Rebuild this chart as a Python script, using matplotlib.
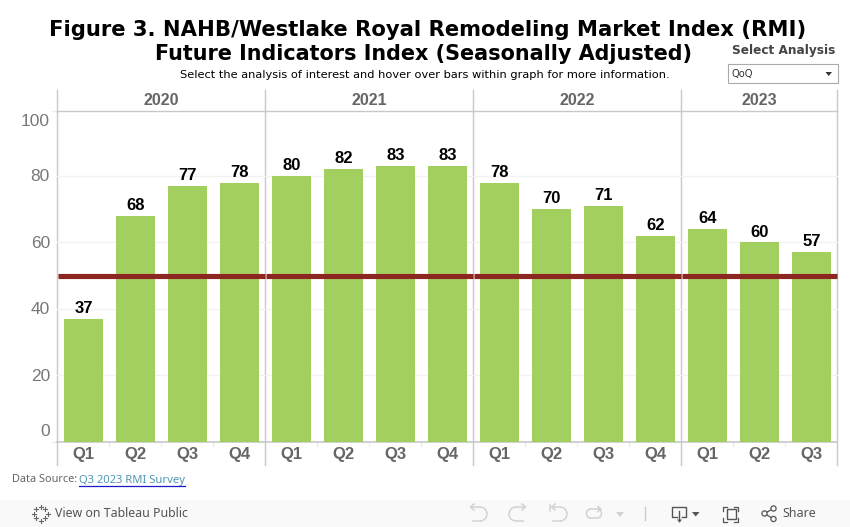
import matplotlib
matplotlib.use('Agg')
import matplotlib.pyplot as plt
from matplotlib.patches import Rectangle, Circle, Arc

# DATA
years = ['2020', '2021', '2022', '2023']
quarters = ['Q1', 'Q2', 'Q3', 'Q4', 'Q1', 'Q2', 'Q3', 'Q4', 'Q1', 'Q2', 'Q3', 'Q4', 'Q1', 'Q2', 'Q3']
rmi = [37, 68, 77, 78, 80, 82, 83, 83, 78, 70, 71, 62, 64, 60, 57]
yticks = [0, 20, 40, 60, 80, 100]
breakeven = 50
pane_edges = [0, 4, 8, 12, 15]

W, H = 850, 527
GREY = '#666666'
LINE = '#c8c8c8'
ARIAL = 'Liberation Sans'

fig = plt.figure(figsize=(W/100, H/100), dpi=100, facecolor='white')

# overlay in pixel coordinates for the dashboard furniture
bg = fig.add_axes([0, 0, 1, 1])
bg.set_xlim(0, W); bg.set_ylim(H, 0); bg.axis('off')

# MAIN PLOT
L, R, T, B = 57.5, 837.5, 109.5, 441.5
ax = fig.add_axes([L/W, 1-B/H, (R-L)/W, (B-T)/H])
ax.set_xlim(0, 15); ax.set_ylim(0, 100)
ax.patch.set_alpha(0)
for s in ax.spines.values():
    s.set_visible(False)
ax.set_axisbelow(True)
ax.set_yticks([20, 40, 60, 80])
ax.set_yticklabels([])
ax.tick_params(length=0)
ax.set_xticks([])
ax.grid(axis='y', color='#f2f2f2', lw=1)

xpos = [i + 0.5 for i in range(len(rmi))]
ax.bar(xpos, rmi, width=0.75, color='#a3cf5e', zorder=2)
for x, v in zip(xpos, rmi):
    ax.annotate(str(v), (x, v), xytext=(0, 2), textcoords='offset points', ha='center', va='bottom',
                fontsize=12, fontweight='bold', family=ARIAL, color='black', zorder=4)

# reference line is drawn per pane, so it breaks at the year dividers
for a, b in zip(pane_edges[:-1], pane_edges[1:]):
    ax.plot([a + 0.01, b - 0.01], [breakeven, breakeven], color='#8b2620', lw=3.7, solid_capstyle='butt', zorder=3)

# y tick labels, the ends are pulled inside the pane like tableau does
for v in yticks:
    y = B - v*(B-T)/100 + 1
    if v == 0:
        y -= 11
    if v == 100:
        y += 11
    bg.text(50, y, str(v), ha='right', va='center', fontsize=12.5, family=ARIAL, color='#777777')

# pane frame
header_top, footer_bottom = 90, 465
TOPLINE = 110.5
for yl in [TOPLINE, B]:
    bg.plot([52, L], [yl, yl], color='#ededed', lw=1, zorder=1)
bg.plot([L, R], [TOPLINE, TOPLINE], color=LINE, lw=1, zorder=1)
bg.plot([L, R], [B, B], color=LINE, lw=1.2, zorder=5)
for e, label in zip(pane_edges, years + ['']):
    xe = L + e*52
    bg.plot([xe, xe], [header_top, footer_bottom], color=LINE, lw=1, zorder=1)
    if label:
        next_e = pane_edges[pane_edges.index(e)+1]
        bg.text((xe + L + next_e*52)/2, 100.5, label, ha='center', va='center', fontsize=11.5, fontweight='bold',
                family=ARIAL, color=GREY)
for i, q in enumerate(quarters):
    xq = L + (i+0.5)*52
    bg.text(xq, 454.5, q, ha='center', va='center', fontsize=12, fontweight='bold', family=ARIAL, color=GREY)
    if i > 0 and i not in pane_edges:
        bg.plot([L+i*52]*2, [B, B+4], color='#ececec', lw=1)

# TITLES
bg.text(428, 30, 'Figure 3. NAHB/Westlake Royal Remodeling Market Index (RMI)', ha='center', va='center',
        fontsize=15.25, fontweight='bold', color='black', family='DejaVu Sans')
bg.text(424, 54.5, 'Future Indicators Index (Seasonally Adjusted)', ha='center', va='center',
        fontsize=14.95, fontweight='bold', color='black', family='DejaVu Sans')
bg.text(424.5, 75, 'Select the analysis of interest and hover over bars within graph for more information.',
        ha='center', va='center', fontsize=8.2, color='black', family='DejaVu Sans')

# FILTER
bg.text(784, 50.5, 'Select Analysis', ha='center', va='center', fontsize=8.7, fontweight='bold', color='#444444',
        family='DejaVu Sans')
bg.add_patch(Rectangle((728.5, 63.5), 110, 19, fc='white', ec='#aaaaaa', lw=0.8))
bg.text(732, 73.5, 'QoQ', ha='left', va='center', fontsize=7.2, color='#333333', family='DejaVu Sans')
bg.fill([825.5, 832, 828.7], [72, 72, 76], color='#333333', lw=0)

# DATA SOURCE
bg.text(12, 480, 'Data Source:', ha='left', va='center', fontsize=7.9, color='#666666', family='Noto Sans')
bg.text(79, 480, 'Q3 2023 RMI Survey', ha='left', va='center', fontsize=8.1, color='#4f96b5', family='Noto Sans')
bg.plot([79, 185], [485.5, 485.5], color='#1a1ac8', lw=0.9)

# TOOLBAR
bg.add_patch(Rectangle((0, 500), W, 27, fc='#f9f9f9', ec='none'))
for dx, dy in [(0, -7), (0, 7), (-7, 0), (7, 0), (-4.5, -4.5), (4.5, -4.5), (-4.5, 4.5), (4.5, 4.5)]:
    bg.plot([41+dx-2, 41+dx+2], [513.5+dy]*2, color='#666666', lw=0.8)
    bg.plot([41+dx]*2, [513.5+dy-2, 513.5+dy+2], color='#666666', lw=0.8)
bg.text(55, 513.5, 'View on Tableau Public', ha='left', va='center', fontsize=8.9, color='#555555', family='Noto Sans')

soft = '#d2d2d2'
# undo, redo, revert
bg.plot([471, 480], [507, 507], color=soft, lw=1.1)
bg.plot([480, 473], [521, 521], color=soft, lw=1.1)
bg.add_patch(Arc((480, 514), 14, 14, theta1=-90, theta2=90, color=soft, lw=1.1))
bg.plot([474, 470.5, 474], [504, 507, 510], color=soft, lw=1.1)
bg.plot([525, 516], [507, 507], color=soft, lw=1.1)
bg.plot([516, 523], [521, 521], color=soft, lw=1.1)
bg.add_patch(Arc((516, 514), 14, 14, theta1=90, theta2=270, color=soft, lw=1.1))
bg.plot([522, 525.5, 522], [504, 507, 510], color=soft, lw=1.1)
bg.plot([552, 560], [507, 507], color=soft, lw=1.1)
bg.plot([560, 553], [521, 521], color=soft, lw=1.1)
bg.add_patch(Arc((560, 514), 14, 14, theta1=-90, theta2=90, color=soft, lw=1.1))
bg.plot([555, 552, 555], [504, 507, 510], color=soft, lw=1.1)
bg.plot([550.5, 550.5], [505, 511], color=soft, lw=1.1)
# pause updates
bg.add_patch(Arc((590.5, 513.5), 8, 9, theta1=90, theta2=270, color=soft, lw=1.1))
bg.add_patch(Arc((597.5, 513.5), 8, 9, theta1=-90, theta2=90, color=soft, lw=1.1))
bg.plot([590.5, 599], [509, 509], color=soft, lw=1.1)
bg.plot([590.5, 597.5], [518, 518], color=soft, lw=1.1)
bg.plot([598, 601, 598], [506.5, 509, 511.5], color=soft, lw=1.1)
bg.fill([616, 624, 620], [512, 512, 517], color=soft, lw=0)
bg.plot([645.5, 645.5], [507, 520], color='#cccccc', lw=1)
# download, fullscreen and share icons
bg.plot([677, 672.5, 672.5, 686.5, 686.5, 682], [517, 517, 507, 507, 517, 517], color='#555555', lw=1)
bg.plot([679.5, 679.5], [511, 521], color='#555555', lw=1)
bg.fill([677, 682, 679.5], [519.5, 519.5, 522.5], color='#555555', lw=0)
bg.fill([692, 699.5, 695.7], [512, 512, 516.5], color='#555555', lw=0)
bg.add_patch(Rectangle((727, 509), 9, 10, fc='none', ec='#555555', lw=1))
for cx, sx in [(723.5, 1), (738.5, -1)]:
    for cy, sy in [(506.5, 1), (521.5, -1)]:
        bg.plot([cx, cx, cx+4*sx], [cy+4*sy, cy, cy], color='#555555', lw=0.9)
for cx, cy in [(764.5, 513.5), (773.5, 508.5), (773.5, 519)]:
    bg.add_patch(Circle((cx, cy), 2.6, fc='#f9f9f9', ec='#555555', lw=0.9, zorder=3))
bg.plot([773.5, 764.5, 773.5], [508.5, 513.5, 519], color='#555555', lw=0.9, zorder=2)
bg.text(782.5, 513.5, 'Share', ha='left', va='center', fontsize=9, color='#555555', family='Noto Sans')

fig.savefig('out.png', dpi=100)
